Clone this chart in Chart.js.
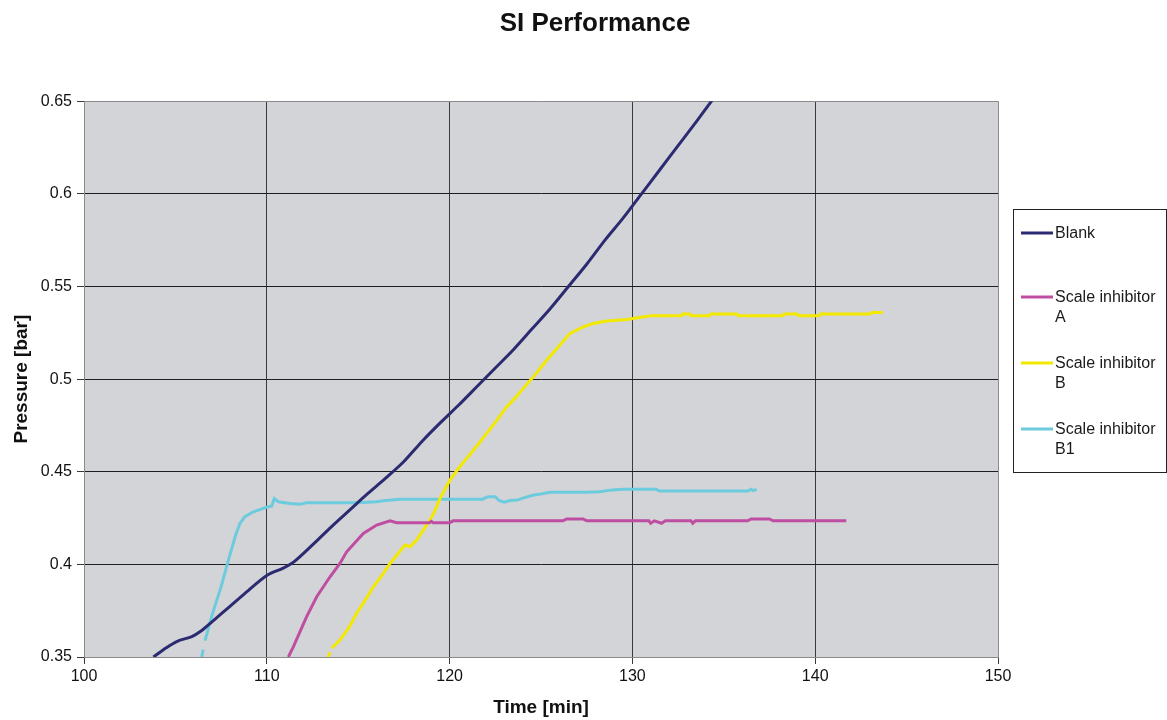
<!DOCTYPE html>
<html>
<head>
<meta charset="utf-8">
<title>SI Performance</title>
<script src="https://cdn.jsdelivr.net/npm/chart.js@4/dist/chart.umd.min.js"></script>
<style>
  html, body { margin: 0; padding: 0; background: #fff; }
  #wrap { width: 1167px; height: 720px; }
</style>
</head>
<body>
<div id="wrap"><canvas id="chartSI"></canvas></div>
<script>
const xTicks = [100, 110, 120, 130, 140, 150];
const yTicks = [0.35, 0.4, 0.45, 0.5, 0.55, 0.6, 0.65];

const seriesNames = ["Blank", ["Scale inhibitor", "A"], ["Scale inhibitor", "B"], ["Scale inhibitor", "B1"]];
const seriesColors = ["#2c2b72", "#bf4ea2", "#f3e800", "#6ccbdd"];

const blankTime = [103.8, 104.5, 105.1, 105.9, 106.4, 107, 108, 109, 110, 110.9, 111.5, 112.5, 113.5, 114.5, 115.5, 116.5, 117.5, 118.5, 119.5, 120.5, 121.5, 122.5, 123.5, 124.5, 125.5, 126.5, 127.5, 128.5, 129.5, 130.5, 131.5, 132.5, 133.5, 134.4];
const blankPressure = [0.350, 0.355, 0.3585, 0.361, 0.364, 0.369, 0.3775, 0.386, 0.394, 0.398, 0.4015, 0.4105, 0.42, 0.429, 0.438, 0.4465, 0.4555, 0.4665, 0.4765, 0.486, 0.496, 0.506, 0.516, 0.527, 0.538, 0.550, 0.562, 0.575, 0.587, 0.600, 0.613, 0.626, 0.639, 0.651];

const aTime = [111.18, 111.45, 112.18, 112.73, 113.46, 114.0, 114.37, 115.28, 116.01, 116.74, 117.1, 118, 118.9, 119.0, 119.1, 120, 120.2, 122, 124, 126.2, 126.4, 127.3, 127.5, 129, 130.9, 131.0, 131.2, 131.6, 131.8, 133.2, 133.3, 133.45, 136.3, 136.5, 137.5, 137.7, 139.5, 141.7];
const aPressure = [0.350, 0.3555, 0.3718, 0.3825, 0.3933, 0.4005, 0.4068, 0.4167, 0.4212, 0.4235, 0.4225, 0.4225, 0.4225, 0.4232, 0.4225, 0.4225, 0.4235, 0.4235, 0.4235, 0.4235, 0.4245, 0.4245, 0.4235, 0.4235, 0.4235, 0.4222, 0.4235, 0.4222, 0.4235, 0.4235, 0.4222, 0.4235, 0.4235, 0.4245, 0.4245, 0.4235, 0.4235, 0.4235];

const bTime = [113.37, 113.45, 113.5, 113.55, 114.0, 114.5, 114.92, 115.4, 115.83, 116.3, 116.74, 117.2, 117.56, 117.83, 118.2, 118.6, 118.93, 119.2, 119.47, 120.02, 120.5, 120.93, 121.5, 122.03, 122.6, 123.12, 123.6, 124.03, 124.58, 125.31, 126.0, 126.59, 127.31, 127.86, 128.6, 129.7, 130.3, 131.0, 132.7, 132.75, 133.15, 133.2, 134.2, 134.3, 135.7, 135.8, 138.2, 138.3, 139.0, 139.1, 140.2, 140.3, 143.0, 143.1, 143.7];
const bPressure = [0.350, 0.3525, null, 0.3547, 0.3591, 0.366, 0.3736, 0.381, 0.3879, 0.394, 0.4005, 0.406, 0.4104, 0.4095, 0.4131, 0.419, 0.4239, 0.429, 0.4355, 0.4455, 0.452, 0.4572, 0.464, 0.4707, 0.478, 0.485, 0.490, 0.495, 0.5012, 0.5102, 0.518, 0.5247, 0.5282, 0.530, 0.5313, 0.5322, 0.5331, 0.5342, 0.5342, 0.5351, 0.5351, 0.5342, 0.5342, 0.5351, 0.5351, 0.5342, 0.5342, 0.5351, 0.5351, 0.5342, 0.5342, 0.5351, 0.5351, 0.536, 0.536];

const b1Time = [106.44, 106.52, 106.57, 106.62, 106.98, 107.5, 107.9, 108.3, 108.53, 108.8, 109.26, 109.99, 110.27, 110.41, 110.63, 111.27, 111.8, 112.18, 113, 114, 115, 116, 116.5, 117.3, 118, 119, 120, 121, 121.8, 122.1, 122.5, 122.7, 123.0, 123.3, 123.7, 124.1, 124.6, 125.0, 125.5, 126.5, 127.5, 128.2, 128.9, 129.5, 130.4, 131.3, 131.5, 132.5, 133.7, 134.5, 135.5, 136.3, 136.5, 136.6, 136.8];
const b1Pressure = [0.350, 0.354, null, 0.3588, 0.3718, 0.388, 0.4023, 0.416, 0.4221, 0.4257, 0.4284, 0.4308, 0.4315, 0.4355, 0.4338, 0.4329, 0.4324, 0.4333, 0.4332, 0.4332, 0.4333, 0.4338, 0.4345, 0.4352, 0.4352, 0.4352, 0.4352, 0.4352, 0.4352, 0.4365, 0.4365, 0.4345, 0.4336, 0.4345, 0.4347, 0.436, 0.4374, 0.438, 0.4389, 0.4389, 0.4389, 0.4392, 0.4402, 0.4405, 0.4406, 0.4405, 0.4396, 0.4396, 0.4396, 0.4396, 0.4396, 0.4396, 0.4405, 0.4398, 0.4405];

const FONT = "'Liberation Sans', Arial, sans-serif";
const pts = (xs, ys) => xs.map((x, i) => ({ x, y: ys[i] }));

// gray plot background
const plotBg = {
  id: "plotBg",
  beforeDraw(chart) {
    const a = chart.chartArea; if (!a) return;
    const { ctx } = chart;
    ctx.save();
    ctx.fillStyle = "#d3d4d7";
    ctx.fillRect(a.left, a.top, a.right - a.left, a.bottom - a.top);
    ctx.restore();
  }
};

// boxed legend on the right, with two-line labels
const boxLegend = {
  id: "boxLegend",
  afterDraw(chart) {
    const { ctx } = chart;
    const bx = 1013, by = 209, bw = 153, bh = 263;
    const rows = [233, 297, 363, 429];
    ctx.save();
    ctx.strokeStyle = "#222";
    ctx.lineWidth = 1;
    ctx.strokeRect(bx + 0.5, by + 0.5, bw, bh);
    ctx.font = `16px ${FONT}`;
    ctx.textBaseline = "middle";
    ctx.fillStyle = "#1a1a1a";
    chart.data.datasets.forEach((ds, i) => {
      const y = rows[i];
      ctx.strokeStyle = ds.borderColor;
      ctx.lineWidth = 3;
      ctx.beginPath(); ctx.moveTo(1021, y); ctx.lineTo(1053, y); ctx.stroke();
      const lines = Array.isArray(seriesNames[i]) ? seriesNames[i] : [seriesNames[i]];
      lines.forEach((t, j) => ctx.fillText(t, 1055, y + 1 + j * 20));
    });
    ctx.restore();
  }
};

const mk = (i, xs, ys, extra) => Object.assign({
  label: Array.isArray(seriesNames[i]) ? seriesNames[i].join(" ") : seriesNames[i],
  data: pts(xs, ys),
  borderColor: seriesColors[i],
  backgroundColor: seriesColors[i],
  borderWidth: 3,
  pointRadius: 0,
  tension: 0,
  spanGaps: false,
  fill: false
}, extra || {});

new Chart(document.getElementById("chartSI").getContext("2d"), {
  type: "line",
  data: {
    datasets: [
      mk(0, blankTime, blankPressure, { tension: 0.3 }),
      mk(1, aTime, aPressure),
      mk(2, bTime, bPressure),
      mk(3, b1Time, b1Pressure)
    ]
  },
  options: {
    responsive: true,
    maintainAspectRatio: false,
    animation: false,
    layout: { padding: { left: 23, right: 0, top: 0, bottom: 0 } },
    plugins: {
      legend: { display: false },
      tooltip: { enabled: false },
      title: {
        display: true,
        text: "SI Performance",
        color: "#111",
        font: { family: FONT, size: 26, weight: "bold" },
        padding: { top: 8, bottom: 62 }
      }
    },
    scales: {
      x: {
        type: "linear",
        min: xTicks[0], max: xTicks[xTicks.length - 1],
        afterBuildTicks: (s) => { s.ticks = xTicks.map(v => ({ value: v })); },
        afterFit: (s) => { s.height = 63; },
        ticks: { color: "#111", font: { family: FONT, size: 16 }, padding: 3, maxRotation: 0 },
        grid: {
          color: (c) => (c.tick && c.tick.value === 150) ? "#8a8a8a" : "#3a3a3a",
          lineWidth: 1, tickLength: 7, tickColor: "#3a3a3a"
        },
        border: { color: "#8a8a8a" },
        title: { display: true, text: "Time [min]", color: "#111", font: { family: FONT, size: 19, weight: "bold" }, padding: { top: 0, bottom: 1 } }
      },
      y: {
        min: yTicks[0], max: yTicks[yTicks.length - 1],
        afterBuildTicks: (s) => { s.ticks = yTicks.map(v => ({ value: v })); },
        afterFit: (s) => { s.width = 61; },
        ticks: { color: "#111", font: { family: FONT, size: 16 }, padding: 5, callback: (v) => String(+v.toFixed(2)) },
        grid: {
          color: (c) => (c.tick && Math.abs(c.tick.value - 0.65) < 1e-9) ? "#8a8a8a" : "#1e1e1e",
          lineWidth: 1, tickLength: 7, tickColor: "#3a3a3a"
        },
        border: { color: "#8a8a8a" },
        title: { display: true, text: "Pressure [bar]", color: "#111", font: { family: FONT, size: 19, weight: "bold" }, padding: { top: -13, bottom: 0 } }
      },
      // empty right axis that reserves the legend column
      yLegend: {
        position: "right",
        min: yTicks[0], max: yTicks[yTicks.length - 1],
        afterFit: (s) => { s.width = 169; },
        ticks: { display: false },
        grid: { display: false },
        border: { display: false }
      }
    }
  },
  plugins: [plotBg, boxLegend]
});
</script>
</body>
</html>
